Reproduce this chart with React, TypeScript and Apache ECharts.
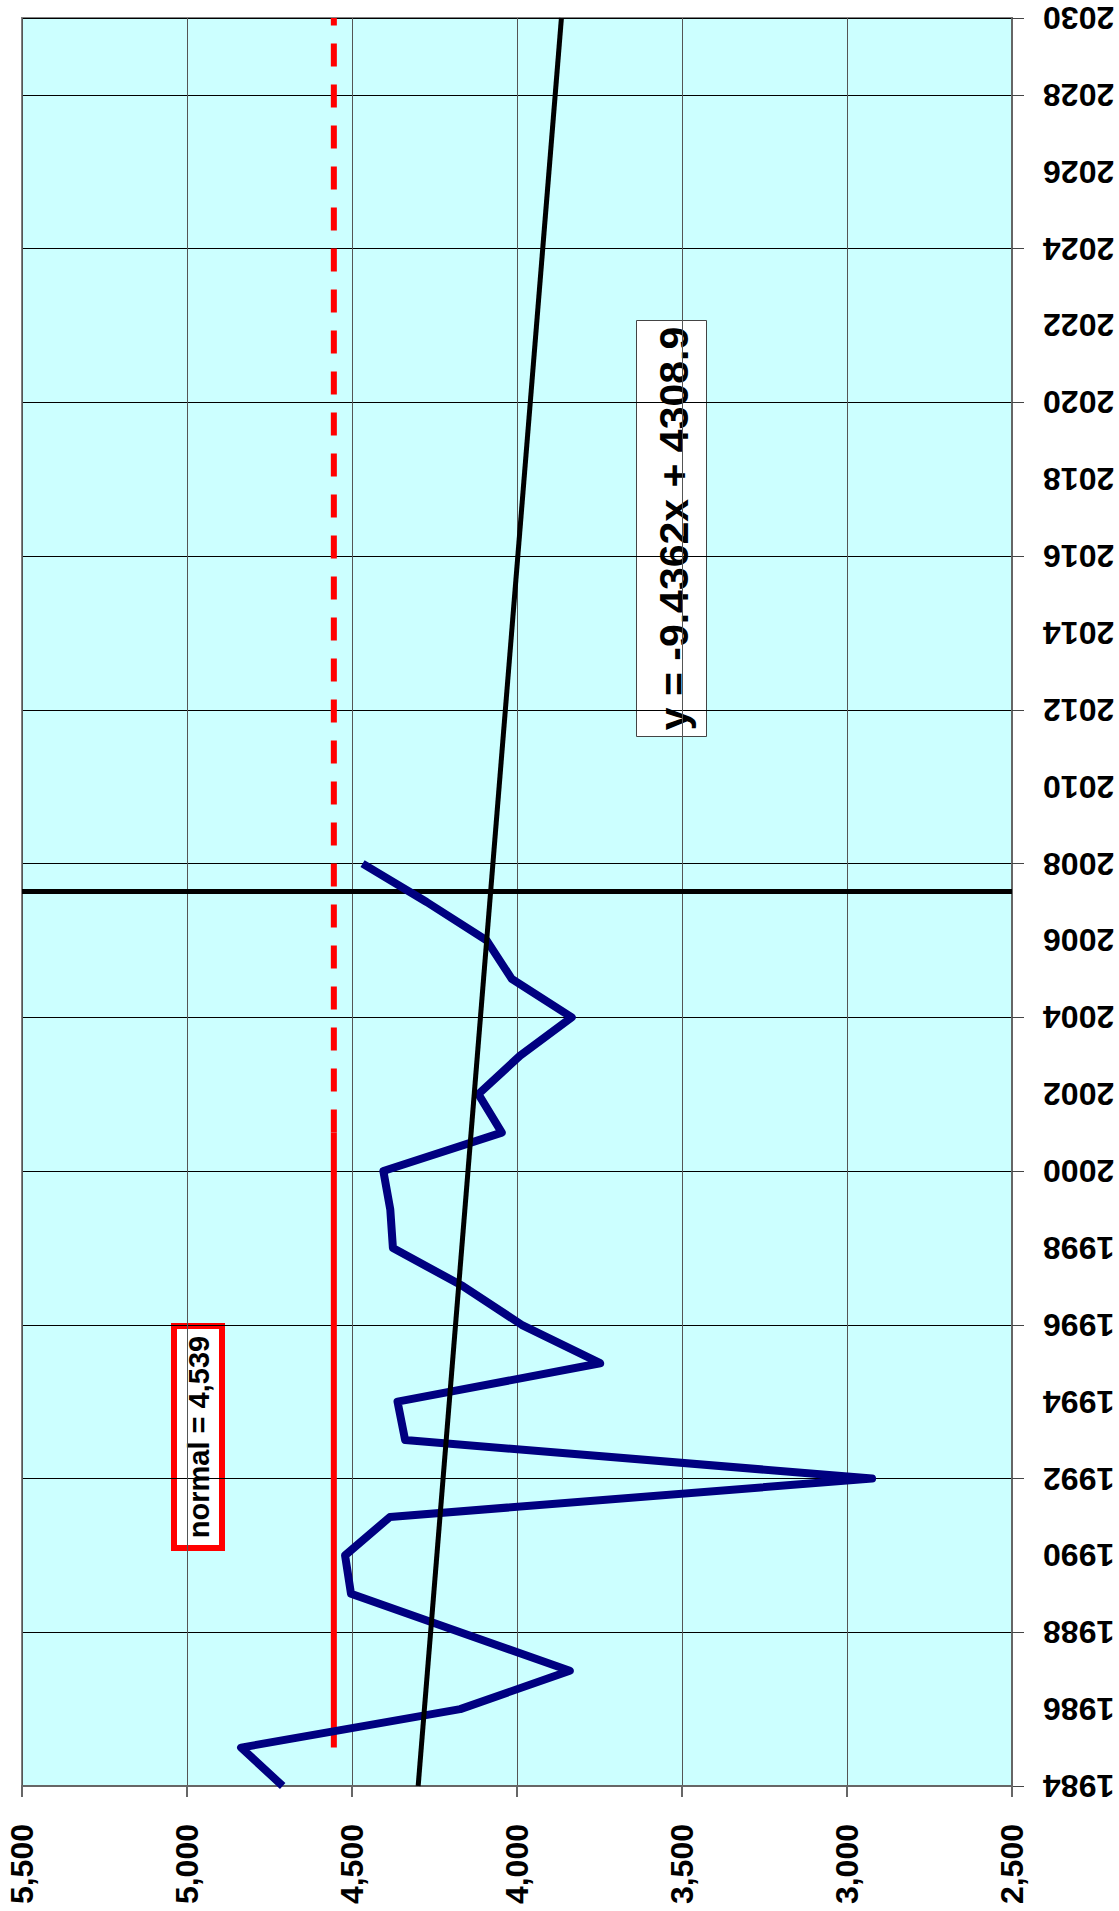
import React, { useEffect, useRef } from "react";
import * as echarts from "echarts";

// ---- data ----
const years = [
  1984, 1985, 1986, 1987, 1988, 1989, 1990, 1991, 1992, 1993, 1994, 1995, 1996,
  1997, 1998, 1999, 2000, 2001, 2002, 2003, 2004, 2005, 2006, 2007, 2008,
];
const values = [
  4710, 4836, 4172, 3840, 4172, 4503, 4521, 4385, 2924, 4339, 4362, 3748, 3986,
  4163, 4376, 4384, 4405, 4046, 4117, 3991, 3834, 4016, 4092, 4274, 4468,
];
const trendYears = [1984, 2030];
const trendValues = [4299.5, 3865.4];
const normalValue = 4555;
const normalSolidYears = [1985, 2001];
const normalDashedYears = [2001, 2030];
const markerYears = [2007.27, 2007.27];
const markerValues = [5500, 2500];
const valueAxisRange = [2500, 5500];
const valueAxisStep = 500;
const yearAxisRange = [1984, 2030];
const yearLabelStep = 2;
const yearGridStep = 4;
const normalLabel = "normal = 4,539";
const equationLabel = "y = -9.4362x + 4308.9";

const FONT = "'Liberation Sans', Arial, Helvetica, sans-serif";

const pairs = (xs: number[], ys: number[]) => xs.map((x, i) => [x, ys[i]]);

export default function App() {
  const ref = useRef<HTMLDivElement>(null);
  useEffect(() => {
    if (!ref.current) return;
    const chart = echarts.init(ref.current, null, { renderer: "svg" });
    chart.setOption({
      animation: false,
      backgroundColor: "#ffffff",
      grid: {
        left: 22,
        right: 107,
        top: 18,
        bottom: 125,
        show: true,
        backgroundColor: "#CCFFFF",
        borderColor: "#808080",
        borderWidth: 2,
      },
      xAxis: {
        type: "value",
        min: valueAxisRange[0],
        max: valueAxisRange[1],
        interval: valueAxisStep,
        inverse: true,
        position: "bottom",
        axisLine: { show: true, onZero: false, lineStyle: { color: "#666", width: 2 } },
        axisTick: { show: true, length: 11, lineStyle: { color: "#666", width: 2 } },
        axisLabel: {
          rotate: 90,
          margin: 38,
          fontSize: 32,
          fontWeight: "bold",
          fontFamily: FONT,
          color: "#000",
          formatter: (v: number) => v.toLocaleString("en-US"),
        },
        splitLine: { show: true, lineStyle: { color: "#555", width: 1 } },
      },
      yAxis: [
        {
          type: "value",
          min: yearAxisRange[0],
          max: yearAxisRange[1],
          interval: yearLabelStep,
          position: "right",
          axisLine: { show: true, onZero: false, lineStyle: { color: "#666", width: 2 } },
          axisTick: { show: false },
          axisLabel: {
            rotate: 180,
            margin: 31,
            fontSize: 32,
            fontWeight: "bold",
            fontFamily: FONT,
            color: "#000",
            formatter: (v: number) => String(v),
          },
          splitLine: { show: false },
        },
        {
          type: "value",
          min: yearAxisRange[0],
          max: yearAxisRange[1],
          interval: yearGridStep,
          position: "right",
          axisLine: { show: false, onZero: false },
          axisTick: { show: true, length: 12, lineStyle: { color: "#444", width: 1 } },
          axisLabel: { show: false },
          splitLine: { show: true, lineStyle: { color: "#000", width: 1 } },
        },
      ],
      series: [
        {
          type: "line",
          data: pairs(markerValues, markerYears),
          symbol: "none",
          lineStyle: { color: "#000", width: 5 },
          z: 2,
        },
        {
          type: "line",
          data: pairs([normalValue, normalValue], normalSolidYears),
          symbol: "none",
          lineStyle: { color: "#FF0000", width: 6 },
          z: 3,
        },
        {
          type: "line",
          data: pairs([normalValue, normalValue], normalDashedYears),
          symbol: "none",
          lineStyle: { color: "#FF0000", width: 6, type: [23, 18] },
          z: 3,
        },
        {
          type: "line",
          data: pairs(values, years),
          symbol: "none",
          lineStyle: { color: "#000080", width: 8, join: "round", cap: "butt" },
          z: 4,
        },
        {
          type: "line",
          data: pairs(trendValues, trendYears),
          symbol: "none",
          lineStyle: { color: "#000", width: 5 },
          z: 5,
        },
      ],
      graphic: [
        {
          type: "group",
          x: 198,
          y: 1437,
          rotation: Math.PI / 2,
          z: 100,
          children: [
            {
              type: "rect",
              shape: { x: -111, y: -24, width: 222, height: 48 },
              style: { fill: "#fff", stroke: "#FF0000", lineWidth: 6 },
            },
            {
              type: "text",
              style: {
                text: normalLabel,
                x: 0,
                y: 1,
                align: "center",
                verticalAlign: "middle",
                fontSize: 29,
                fontWeight: "bold",
                fontFamily: FONT,
                fill: "#000",
              },
            },
          ],
        },
        {
          type: "group",
          x: 671.5,
          y: 528.5,
          rotation: Math.PI / 2,
          z: 100,
          children: [
            {
              type: "rect",
              shape: { x: -208, y: -35, width: 416, height: 70 },
              style: { fill: "#fff", stroke: "#444", lineWidth: 1 },
            },
            {
              type: "text",
              style: {
                text: equationLabel,
                x: 0,
                y: 2,
                align: "center",
                verticalAlign: "middle",
                fontSize: 41,
                fontWeight: "bold",
                fontFamily: FONT,
                fill: "#000",
              },
            },
          ],
        },
      ],
    });
    return () => chart.dispose();
  }, []);
  return (
    <div
      ref={ref}
      style={{ position: "absolute", left: 0, top: 0, width: 1119, height: 1911 }}
    />
  );
}
